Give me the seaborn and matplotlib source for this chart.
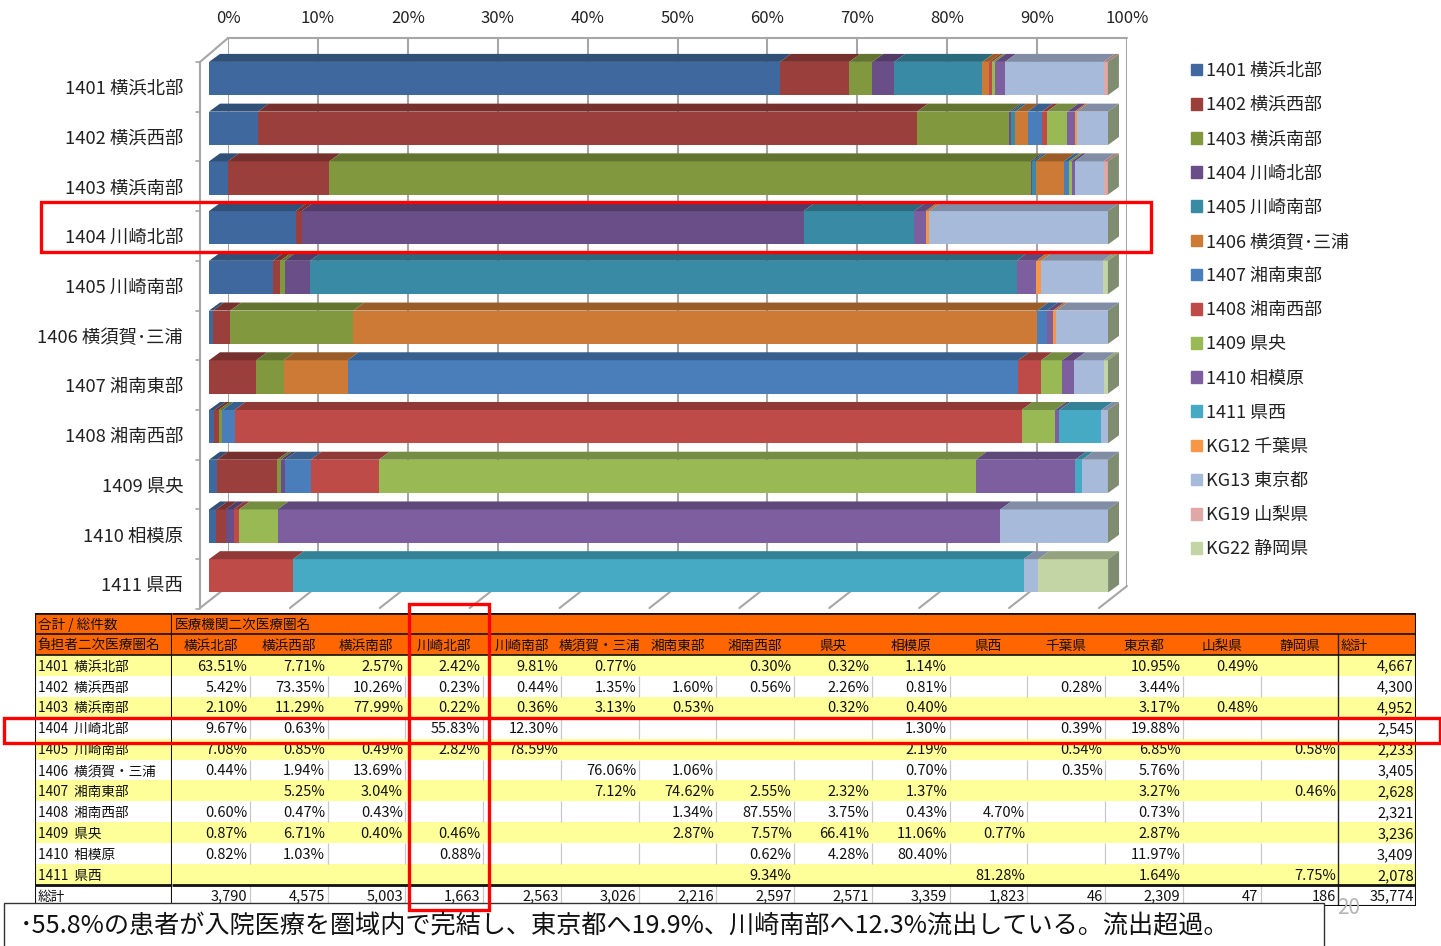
import numpy as np
import matplotlib
matplotlib.use('Agg')
import matplotlib.pyplot as plt
import seaborn as sns
from matplotlib.colors import ListedColormap, to_rgb
from matplotlib.patches import Patch, Polygon, Rectangle

sns.set_theme(style='white')
plt.rcParams['font.family'] = ['Noto Sans CJK JP', 'DejaVu Sans']

W, H = 1441, 946

# data
rows = ['1401 横浜北部', '1402 横浜西部', '1403 横浜南部', '1404 川崎北部', '1405 川崎南部',
        '1406 横須賀･三浦', '1407 湘南東部', '1408 湘南西部', '1409 県央', '1410 相模原', '1411 県西']
legend_labels = rows + ['KG12 千葉県', 'KG13 東京都', 'KG19 山梨県', 'KG22 静岡県']
table_cols = ['横浜北部', '横浜西部', '横浜南部', '川崎北部', '川崎南部', '横須賀・三浦', '湘南東部', '湘南西部',
              '県央', '相模原', '県西', '千葉県', '東京都', '山梨県', '静岡県']
table_rows = ['1401  横浜北部', '1402  横浜西部', '1403  横浜南部', '1404  川崎北部', '1405  川崎南部',
              '1406  横須賀・三浦', '1407  湘南東部', '1408  湘南西部', '1409  県央', '1410  相模原', '1411  県西']
x_ticks = [0, 10, 20, 30, 40, 50, 60, 70, 80, 90, 100]

r1401 = [63.51, 7.71, 2.57, 2.42, 9.81, 0.77, 0, 0.30, 0.32, 1.14, 0, 0, 10.95, 0.49, 0]
r1402 = [5.42, 73.35, 10.26, 0.23, 0.44, 1.35, 1.60, 0.56, 2.26, 0.81, 0, 0.28, 3.44, 0, 0]
r1403 = [2.10, 11.29, 77.99, 0.22, 0.36, 3.13, 0.53, 0, 0.32, 0.40, 0, 0, 3.17, 0.48, 0]
r1404 = [9.67, 0.63, 0, 55.83, 12.30, 0, 0, 0, 0, 1.30, 0, 0.39, 19.88, 0, 0]
r1405 = [7.08, 0.85, 0.49, 2.82, 78.59, 0, 0, 0, 0, 2.19, 0, 0.54, 6.85, 0, 0.58]
r1406 = [0.44, 1.94, 13.69, 0, 0, 76.06, 1.06, 0, 0, 0.70, 0, 0.35, 5.76, 0, 0]
r1407 = [0, 5.25, 3.04, 0, 0, 7.12, 74.62, 2.55, 2.32, 1.37, 0, 0, 3.27, 0, 0.46]
r1408 = [0.60, 0.47, 0.43, 0, 0, 0, 1.34, 87.55, 3.75, 0.43, 4.70, 0, 0.73, 0, 0]
r1409 = [0.87, 6.71, 0.40, 0.46, 0, 0, 2.87, 7.57, 66.41, 11.06, 0.77, 0, 2.87, 0, 0]
r1410 = [0.82, 1.03, 0, 0.88, 0, 0, 0, 0.62, 4.28, 80.40, 0, 0, 11.97, 0, 0]
r1411 = [0, 0, 0, 0, 0, 0, 0, 9.34, 0, 0, 81.28, 0, 1.64, 0, 7.75]
col_totals = ['3,790', '4,575', '5,003', '1,663', '2,563', '3,026', '2,216', '2,597', '2,571', '3,359',
              '1,823', '46', '2,309', '47', '186']
row_totals = ['4,667', '4,300', '4,952', '2,545', '2,233', '3,405', '2,628', '2,321', '3,236', '3,409', '2,078']
grand_total = '35,774'

pct = np.array([r1401, r1402, r1403, r1404, r1405, r1406, r1407, r1408, r1409, r1410, r1411])

colors = ['#3F699E', '#9B3F3C', '#82983F', '#6A4E87', '#398AA4', '#CC7A35', '#4A7EBB', '#BE4B48',
          '#98B954', '#7D5FA0', '#46AAC5', '#F79646', '#A8BAD9', '#DFA7A6', '#C3D5A5']
side_color = '#7F8C70'
grid_color = '#A6A6A6'


def px_axes(x0, y0, x1, y1, z):
    a = fig.add_axes([x0 / W, 1 - y1 / H, (x1 - x0) / W, (y1 - y0) / H], zorder=z)
    a.patch.set_alpha(0)
    return a


fig = plt.figure(figsize=(W / 100, H / 100), dpi=100)

# back wall with the gridlines and the percent labels
ax_wall = px_axes(228, 38, 1127, 586, 1)
ax_wall.set_xlim(0, 100)
ax_wall.set_ylim(0, 1)
ax_wall.set_xticks(x_ticks, [f'{v}%' for v in x_ticks])
ax_wall.set_yticks([])
ax_wall.xaxis.tick_top()
ax_wall.tick_params(axis='x', length=0, pad=8, labelsize=12, colors='#222222')
ax_wall.grid(axis='x', color=grid_color, lw=1.5)
sns.despine(ax=ax_wall, left=True, right=True, bottom=True, top=True)
ax_wall.plot([0, 100], [1, 1], color=grid_color, lw=1.5, clip_on=False)

# floor and left wall
ax_floor = px_axes(0, 0, W, H, 2)
ax_floor.set_xlim(0, W)
ax_floor.set_ylim(H, 0)
ax_floor.axis('off')
for v in x_ticks:
    xb = 228 + v * 8.99
    ax_floor.plot([xb, xb - 28], [586, 608], color=grid_color, lw=1.5)
ax_floor.plot([200, 228], [62, 38], color=grid_color, lw=1.5)
ax_floor.plot([200, 200], [62, 608], color=grid_color, lw=1.5)
for k in range(12):
    ax_floor.plot([196, 200], [62 + 49.72 * k] * 2, color=grid_color, lw=1.2)

# stacked bars
ax = px_axes(209, 53.7, 1108, 600.7, 3)
bar_h = 0.67
dx = 11 / 8.99
dy = 8 / 49.72
left = np.zeros(len(rows))
for j in range(pct.shape[1]):
    sns.barplot(x=pct[:, j], y=rows, order=rows, orient='h', color=colors[j], saturation=1,
                width=bar_h, left=left, linewidth=0, ax=ax)
    top_col = np.array(to_rgb(colors[j])) * 0.76
    for i in range(len(rows)):
        if pct[i, j] > 0:
            yt = i - bar_h / 2
            l, r = left[i], left[i] + pct[i, j]
            ax.add_patch(Polygon([(l, yt), (r, yt), (r + dx, yt - dy), (l + dx, yt - dy)],
                                 fc=top_col, ec='none', clip_on=False))
    left = left + pct[:, j]
for i in range(len(rows)):
    yt, yb = i - bar_h / 2, i + bar_h / 2
    e = left[i]
    ax.add_patch(Polygon([(e, yt), (e + dx, yt - dy), (e + dx, yb - dy), (e, yb)],
                         fc=side_color, ec='none', clip_on=False))
ax.set_xlim(0, 100)
ax.set_ylim(10.5, -0.5)
ax.set_xlabel('')
ax.set_ylabel('')
ax.set_xticks([])
ax.set_yticks(np.arange(len(rows)) + 0.17, rows)
ax.tick_params(axis='y', length=0, pad=18.5, labelsize=13.2, colors='#222222')
sns.despine(ax=ax, left=True, right=True, bottom=True, top=True)

# legend
handles = [Patch(color=c) for c in colors]
fig.legend(handles, legend_labels, loc='upper left', bbox_to_anchor=(1191 / W, 1 - 62 / H), frameon=False,
           fontsize=13, handlelength=0.62, handleheight=0.62, handletextpad=0.22, labelspacing=0.895,
           borderpad=0, borderaxespad=0, labelcolor='#222222')

# table
n = len(rows)
band = np.zeros((n + 3, 15 + 1))
for i in range(n):
    band[i + 2, :] = 1 if i % 2 == 0 else 2
band[n + 2, :] = 2
table_cmap = ListedColormap(['#FF6600', '#FFFF99', '#FFFFFF'])
ax_head = px_axes(35, 613, 172, 906, 4)
sns.heatmap(band[:, :1], cmap=table_cmap, vmin=0, vmax=2, cbar=False, xticklabels=False, yticklabels=False, ax=ax_head)
ax_body = px_axes(172, 613, 1416, 906, 4)
sns.heatmap(band, cmap=table_cmap, vmin=0, vmax=2, cbar=False, xticklabels=False, yticklabels=False, ax=ax_body)

txt = '#111111'
cjk_size = 9.8
num_size = 10.5
ax_head.text(0.02, 0.56, '合計 / 総件数', fontsize=cjk_size, color=txt, va='center', ha='left')
ax_head.text(0.02, 1.56, '負担者二次医療圏名', fontsize=cjk_size, color=txt, va='center', ha='left')
ax_body.text(0.03, 0.56, '医療機関二次医療圏名', fontsize=cjk_size, color=txt, va='center', ha='left')
for j, name in enumerate(table_cols):
    ax_body.text(j + 0.5, 1.56, name, fontsize=cjk_size, color=txt, va='center', ha='center')
ax_body.text(15.03, 1.56, '総計', fontsize=cjk_size, color=txt, va='center', ha='left')
for i, name in enumerate(table_rows):
    ax_head.text(0.02, i + 2.56, name, fontsize=cjk_size, color=txt, va='center', ha='left')
    for j in range(15):
        if pct[i, j] > 0:
            ax_body.text(j + 0.97, i + 2.56, f'{pct[i, j]:.2f}%', fontsize=num_size, color=txt, va='center', ha='right')
    ax_body.text(15.97, i + 2.56, row_totals[i], fontsize=num_size, color=txt, va='center', ha='right')
ax_head.text(0.02, n + 2.56, '総計', fontsize=cjk_size, color=txt, va='center', ha='left')
for j, v in enumerate(col_totals):
    ax_body.text(j + 0.97, n + 2.56, v, fontsize=num_size, color=txt, va='center', ha='right')
ax_body.text(15.97, n + 2.56, grand_total, fontsize=num_size, color=txt, va='center', ha='right')

# cell borders
for i in range(n + 3):
    if band[i, 0] == 2:
        ax_body.vlines(np.arange(1, 15), i, i + 1, color='#C8C8C8', lw=0.9)
ax_body.vlines(15, 1, n + 3, color='#222222', lw=1)
for a, x_end in ((ax_head, 1), (ax_body, 16)):
    a.hlines([1, 2], 0, x_end, color='#111111', lw=1.2)
    a.hlines([n + 2], 0, x_end, color='#111111', lw=2)
    a.hlines([0], 0, x_end, color='#111111', lw=2)
    a.hlines([n + 3], 0, x_end, color='#111111', lw=1.5)
ax_head.vlines([0, 1], 0, n + 3, color='#111111', lw=1.5)
ax_body.vlines([16], 0, n + 3, color='#111111', lw=1.5)

# annotation layer
ax_top = px_axes(0, 0, W, H, 6)
ax_top.set_xlim(0, W)
ax_top.set_ylim(H, 0)
ax_top.axis('off')
ax_top.add_patch(Rectangle((4, 903), 1320, 50, fc='white', ec='#333333', lw=1))
ax_top.text(1349, 908, '20', fontsize=15, color='#B5B5B5', ha='center', va='center')
ax_top.text(19.5, 926, '･55.8%の患者が入院医療を圏域内で完結し、東京都へ19.9%、川崎南部へ12.3%流出している。流出超過。',
            fontsize=18.1, color='#111111', ha='left', va='center')
ax_top.add_patch(Rectangle((40.5, 201.5), 1110, 50.5, fc='none', ec='#FF0000', lw=2.4))
ax_top.add_patch(Rectangle((3.5, 717.5), 1436, 25.5, fc='none', ec='#FF0000', lw=2.4))
ax_top.add_patch(Rectangle((409, 604), 80, 306, fc='none', ec='#FF0000', lw=2.4))

fig.savefig('out.png', dpi=100)
